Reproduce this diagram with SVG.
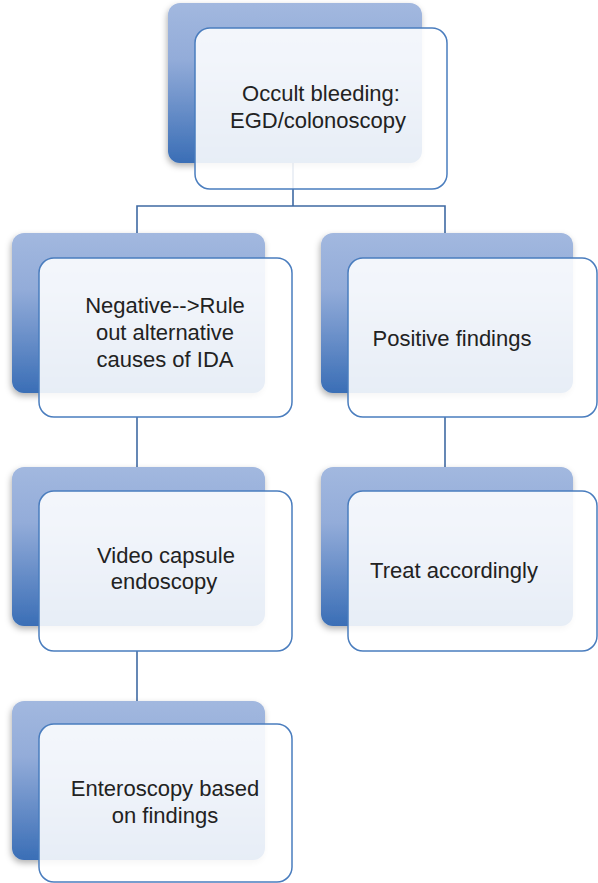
<svg xmlns="http://www.w3.org/2000/svg" width="598" height="883" viewBox="0 0 598 883">
<defs>
<linearGradient id="bg" x1="0" y1="0" x2="0" y2="1">
<stop offset="0" stop-color="#A2B8DF"/>
<stop offset="0.35" stop-color="#93ACD9"/>
<stop offset="1" stop-color="#3A6EB6"/>
</linearGradient>
<filter id="sh" x="-10%" y="-10%" width="120%" height="125%">
<feDropShadow dx="-1" dy="3" stdDeviation="3" flood-color="#000" flood-opacity="0.3"/>
</filter>
</defs>
<style>
.back{fill:url(#bg);filter:url(#sh)}
.front{fill:#FFFFFF;fill-opacity:0.88;stroke:#4A7DBE;stroke-width:1.5}
.conn{fill:none;stroke:#3F6AA3;stroke-width:1.6}
text{font-family:"Liberation Sans",Arial,sans-serif;font-size:22px;fill:#222222;text-anchor:middle}
</style>
<rect width="598" height="883" fill="#FFFFFF"/>
<g id="connectors">
<path class="conn" d="M293 163 V206 M137 233 V206 H445 V233"/>
<path class="conn" d="M137 417 V467"/>
<path class="conn" d="M445 417 V467"/>
<path class="conn" d="M137 651 V701"/>
</g>
<g id="node-occult">
<rect class="back" x="168" y="3" width="254" height="160" rx="12"/>
<rect class="front" x="195" y="28" width="252" height="161" rx="15"/>
<text x="321" y="101">Occult bleeding:</text>
<text x="318" y="128">EGD/colonoscopy</text>
</g>
<g id="node-negative">
<rect class="back" x="12" y="233" width="253" height="160" rx="12"/>
<rect class="front" x="39" y="258" width="253" height="159" rx="15"/>
<text x="165" y="313">Negative--&gt;Rule</text>
<text x="165" y="340">out alternative</text>
<text x="165" y="367">causes of IDA</text>
</g>
<g id="node-positive">
<rect class="back" x="321" y="233" width="252" height="160" rx="12"/>
<rect class="front" x="348" y="258" width="249" height="159" rx="15"/>
<text x="452" y="346">Positive findings</text>
</g>
<g id="node-video">
<rect class="back" x="12" y="467" width="253" height="159" rx="12"/>
<rect class="front" x="39" y="491" width="253" height="160" rx="15"/>
<text x="166" y="563">Video capsule</text>
<text x="164" y="589">endoscopy</text>
</g>
<g id="node-treat">
<rect class="back" x="321" y="467" width="252" height="159" rx="12"/>
<rect class="front" x="348" y="491" width="249" height="160" rx="15"/>
<text x="454" y="578">Treat accordingly</text>
</g>
<g id="node-enteroscopy">
<rect class="back" x="12" y="701" width="253" height="159" rx="12"/>
<rect class="front" x="39" y="724" width="253" height="158" rx="15"/>
<text x="165" y="796">Enteroscopy based</text>
<text x="165" y="823">on findings</text>
</g>
</svg>
